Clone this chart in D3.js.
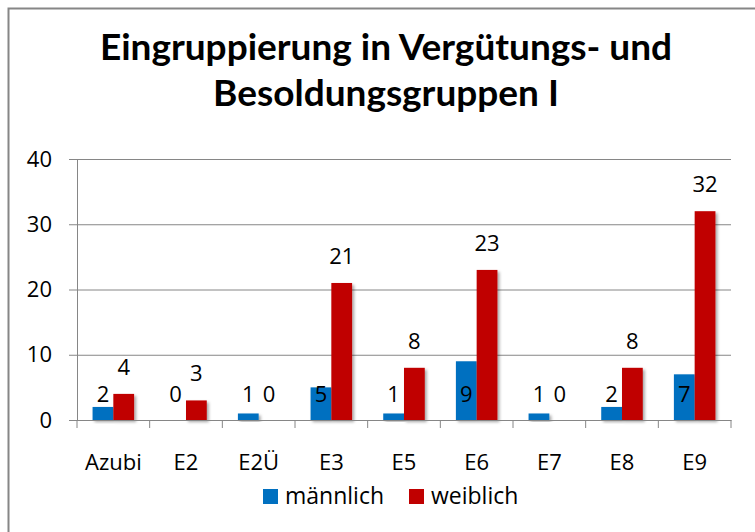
<!DOCTYPE html>
<html>
<head>
<meta charset="utf-8">
<script src="https://cdn.jsdelivr.net/npm/d3@7"></script>
<style>
	body { margin: 0; background: #fff; }
	text { font-family: "Open Sans", sans-serif; fill: #000; }
	.title { font-family: Lato, sans-serif; font-weight: bold; font-size: 37px; }
	.axis text { font-size: 22px; font-family: "Open Sans", sans-serif; }
	.lbl { font-size: 22px; }
	.leg { font-size: 23px; }
</style>
</head>
<body>
<div id="chart"></div>
<script>
var categories = ["Azubi", "E2", "E2Ü", "E3", "E5", "E6", "E7", "E8", "E9"];
var maennlich = [2, 0, 1, 5, 1, 9, 1, 2, 7];
var weiblich = [4, 3, 0, 21, 8, 23, 0, 8, 32];
var seriesNames = ["männlich", "weiblich"];
var seriesColors = ["#0070C0", "#C00000"];
var yTicks = [0, 10, 20, 30, 40];
var titleLines = ["Eingruppierung in Vergütungs- und", "Besoldungsgruppen I"];

function drawChart() {
	var svg = d3.select("#chart").append("svg")
		.attr("width", 755).attr("height", 532);

	// drop shadow like the office chart
	var f = svg.append("defs").append("filter").attr("id", "shadow")
		.attr("x", "-20%").attr("y", "-20%").attr("width", "150%").attr("height", "150%");
	f.append("feDropShadow").attr("dx", 2).attr("dy", 2)
		.attr("stdDeviation", 1.5).attr("flood-color", "#000").attr("flood-opacity", 0.35);

	// outer frame
	svg.append("rect").attr("x", 8.5).attr("y", 8.5)
		.attr("width", 800).attr("height", 600)
		.attr("fill", "none").attr("stroke", "#868686").attr("stroke-width", 2);

	// title
	svg.append("g").selectAll("text")
		.data(titleLines).enter()
		.append("text")
		.attr("class", "title")
		.attr("x", 386)
		.attr("y", function (d, i) { return 60 + i * 46; })
		.attr("text-anchor", "middle")
		.text(function (d) { return d; });

	var x0 = 77, x1 = 731, yTop = 159, yBot = 420;

	var x = d3.scaleBand().domain(categories).range([x0, x1]).paddingInner(0).paddingOuter(0);
	var inner = d3.scaleBand().domain(seriesNames).range([0, x.bandwidth()]).paddingInner(0).paddingOuter(0.75);
	var y = d3.scaleLinear().domain([0, 40]).range([yBot, yTop]);

	// gridlines + y axis
	var yAxis = svg.append("g").attr("class", "axis")
		.attr("transform", "translate(" + x0 + ",0)")
		.call(d3.axisLeft(y).tickValues(yTicks).tickSize(8).tickPadding(17));
	yAxis.select(".domain").attr("stroke", "#868686");
	yAxis.selectAll(".tick line").attr("stroke", "#868686");
	yAxis.selectAll(".tick").append("line")
		.attr("x1", 0).attr("x2", x1 - x0)
		.attr("stroke", "#868686");

	// bars
	var data = categories.map(function (c, i) {
		return { cat: c, values: [maennlich[i], weiblich[i]] };
	});

	var groups = svg.append("g").selectAll("g")
		.data(data).enter()
		.append("g")
		.attr("transform", function (d) { return "translate(" + x(d.cat) + ",0)"; });

	groups.selectAll("rect")
		.data(function (d) {
			return d.values.map(function (v, k) { return { s: seriesNames[k], v: v, k: k }; });
		})
		.enter()
		.filter(function (d) { return d.v > 0; })
		.append("rect")
		.attr("x", function (d) { return inner(d.s); })
		.attr("width", inner.bandwidth())
		.attr("y", function (d) { return y(d.v); })
		.attr("height", function (d) { return yBot - y(d.v); })
		.attr("fill", function (d) { return seriesColors[d.k]; })
		.attr("filter", "url(#shadow)");

	// x axis (drawn over bars bottom)
	var xAxis = svg.append("g").attr("class", "axis")
		.attr("transform", "translate(0," + yBot + ")")
		.call(d3.axisBottom(x).tickSize(0).tickPadding(34));
	xAxis.select(".domain").attr("stroke", "#868686");
	xAxis.selectAll(".tick").select("line").remove();
	xAxis.append("g").selectAll("line")
		.data(d3.range(categories.length + 1)).enter()
		.append("line")
		.attr("x1", function (i) { return x0 + i * x.step(); })
		.attr("x2", function (i) { return x0 + i * x.step(); })
		.attr("y1", 0).attr("y2", 8)
		.attr("stroke", "#868686");

	// data labels
	groups.selectAll("text")
		.data(function (d) {
			return d.values.map(function (v, k) { return { s: seriesNames[k], v: v, k: k }; });
		})
		.enter()
		.append("text")
		.attr("class", "lbl")
		.attr("text-anchor", "middle")
		.attr("x", function (d) { return inner(d.s) + inner.bandwidth() / 2; })
		.attr("y", function (d) {
			// blue labels sit at a fixed height, red ones above the bar
			if (d.k == 0 || d.v == 0) return yBot - 18;
			return y(d.v) - 19;
		})
		.text(function (d) { return d.v; });

	// legend
	var legend = svg.append("g").attr("transform", "translate(263,489)");
	var items = legend.selectAll("g")
		.data(seriesNames).enter()
		.append("g")
		.attr("transform", function (d, i) { return "translate(" + (i * 146) + ",0)"; });
	items.append("rect")
		.attr("width", 15).attr("height", 15)
		.attr("fill", function (d, i) { return seriesColors[i]; });
	items.append("text")
		.attr("class", "leg")
		.attr("x", 22).attr("y", 15)
		.text(function (d) { return d; });
}

drawChart();
</script>
</body>
</html>
